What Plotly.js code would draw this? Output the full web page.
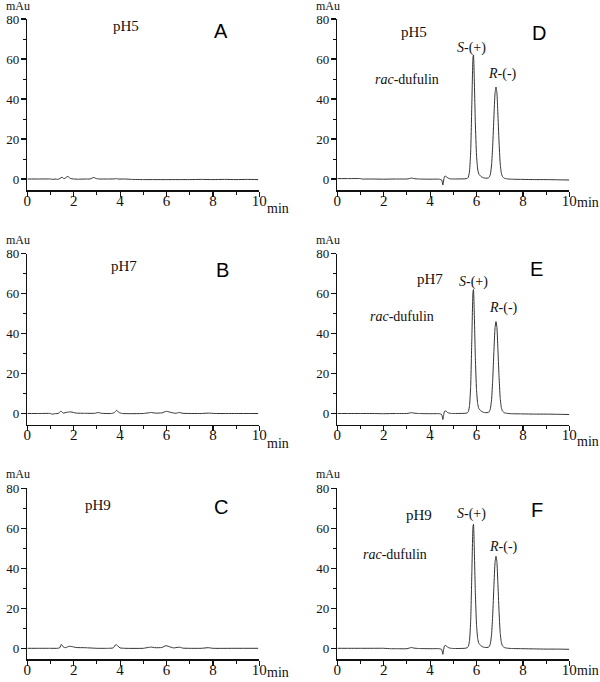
<!DOCTYPE html>
<html>
<head>
<meta charset="utf-8">
<script src="https://cdn.plot.ly/plotly-3.0.1.min.js"></script>
<style>html,body{margin:0;padding:0;background:#fff;}#chart{width:600px;height:682px;}</style>
</head>
<body>
<div id="chart"></div>
<script>
// ---- Data ----
const tickValsX = [0, 2, 4, 6, 8, 10];
const tickValsY = [0, 20, 40, 60, 80];
const panelLetters = ["A", "B", "C", "D", "E", "F"];
const phLabels = ["pH5", "pH7", "pH9", "pH5", "pH7", "pH9"];

// Panel A: blank, pH5
const tA = [0,0.5,1.0,1.1,1.2,1.3,1.4,1.5,1.58,1.65,1.75,1.85,2.0,2.2,2.5,2.7,2.8,2.87,2.95,3.1,3.5,3.8,3.85,3.9,4.2,4.5,5,5.5,6,6.5,7,7.5,8,8.5,9,9.5,9.95];
const yA = [0,0,0,-0.2,0,-0.2,0.2,0.9,0.1,0.6,1.3,0.3,0,-0.1,0,0,0.5,0.8,0.3,0,0,0.1,0.3,0,0,-0.2,-0.3,-0.3,-0.3,-0.3,-0.3,-0.2,-0.3,-0.2,-0.3,-0.2,-0.3];

// Panel B: blank, pH7
const tB = [0,0.5,1.0,1.05,1.2,1.35,1.45,1.55,1.7,1.85,2.0,2.1,2.5,2.9,3.05,3.2,3.6,3.75,3.85,3.95,4.1,5.0,5.2,5.35,5.5,5.8,6.0,6.2,6.4,6.55,6.7,7.5,7.8,8.1,9,9.95];
const yB = [0,0,0,-0.3,-0.1,0.1,1.2,0.2,0.6,0.8,0.5,0.2,0.1,0.1,0.5,0.1,0,0.4,1.6,0.5,0,0,0.3,0.5,0.2,0.3,1.1,0.5,0.1,0.5,0.1,0,0.2,0,0,0];

// Panel C: blank, pH9
const tC = [0,0.5,1.0,1.3,1.4,1.47,1.55,1.65,1.8,1.95,2.1,2.5,3.0,3.5,3.7,3.82,3.9,4.0,4.2,5.0,5.2,5.35,5.5,5.8,5.97,6.1,6.3,6.5,6.6,6.7,7.5,7.8,8.0,9,9.95];
const yC = [0,0,0,0,0.3,2.0,0.7,0.3,1.0,0.8,0.4,0.3,0,0,0.2,1.9,1.2,0.2,0,0,0.4,0.6,0.3,0.4,1.3,0.9,0.2,0.5,0.5,0.1,0,0.3,0,0,0];

// Panel D: rac-dufulin, pH5
const tD = [0,0.5,1.0,1.05,1.5,2.0,2.5,3.0,3.1,3.2,3.3,3.5,4.0,4.4,4.5,4.55,4.58,4.62,4.68,4.75,4.85,5.0,5.5,5.6,5.65,5.7,5.75,5.8,5.85,5.87,5.9,5.95,6.0,6.05,6.1,6.2,6.3,6.4,6.5,6.55,6.6,6.65,6.7,6.75,6.8,6.84,6.88,6.92,6.97,7.02,7.07,7.12,7.2,7.3,7.5,8,8.5,9,9.5,10];
const yD = [0.2,0.2,0.2,0,0,-0.1,0,0,0.2,0.5,0.2,0,-0.1,-0.1,-0.5,-3,-1,1.2,1.4,0.6,0.1,0,0.1,0.3,1.0,4,14,38,61,62,52,28,12,5,2.5,1.2,0.6,0.4,0.5,0.9,2.5,7,17,31,43,46,43,33,19,8,3,1.2,0.4,0.1,-0.1,-0.2,-0.3,-0.3,-0.4,-0.5];

// Panel E: rac-dufulin, pH7
const tE = [0,0.5,1.0,1.5,2.0,2.5,3.0,3.1,3.2,3.3,3.5,4.0,4.4,4.5,4.55,4.58,4.62,4.68,4.75,4.85,5.0,5.5,5.6,5.65,5.7,5.75,5.8,5.85,5.87,5.9,5.95,6.0,6.05,6.1,6.2,6.3,6.4,6.5,6.55,6.6,6.65,6.7,6.75,6.8,6.84,6.88,6.92,6.97,7.02,7.07,7.12,7.2,7.3,7.5,8,8.5,9,9.5,10];
const yE = [0,0,0,0,-0.1,0,0,0.2,0.4,0.2,0,-0.1,-0.1,-0.5,-3,-1,1.1,1.3,0.5,0.1,0,0.1,0.3,1.0,4,14,38,61,62,52,28,12,5,2.5,1.2,0.6,0.4,0.5,0.9,2.5,7,17,31,43,46,43,33,19,8,3,1.2,0.4,0.1,-0.1,-0.2,-0.3,-0.3,-0.4,-0.5];

// Panel F: rac-dufulin, pH9
const tF = [0,0.5,1.0,1.5,2.0,2.3,2.5,3.0,3.1,3.2,3.3,3.5,4.0,4.4,4.5,4.55,4.58,4.62,4.68,4.75,4.85,5.0,5.5,5.6,5.65,5.7,5.75,5.8,5.85,5.87,5.9,5.95,6.0,6.05,6.1,6.2,6.3,6.4,6.5,6.55,6.6,6.65,6.7,6.75,6.8,6.84,6.88,6.92,6.97,7.02,7.07,7.12,7.2,7.3,7.5,8,8.5,9,9.5,10];
const yF = [0,0,0,0,0,-0.2,-0.2,-0.2,0.1,0.4,0.1,-0.1,-0.2,-0.2,-0.6,-3,-1,1.2,1.4,0.6,0.1,-0.1,0,0.3,1.0,4,14,38,61,62,52,28,12,5,2.5,1.2,0.6,0.4,0.5,0.9,2.5,7,17,31,43,46,43,33,19,8,3,1.2,0.4,0.1,-0.1,-0.2,-0.3,-0.4,-0.4,-0.5];

// annotation positions (data coords) per panel
const phPosX = [4.25, 4.17, 3.05, 3.3, 4.0, 3.5];
const phPosY = [76.6, 73.6, 71.6, 73.6, 67.3, 66.6];
const letterPosX = [8.35, 8.4, 8.35, 8.7, 8.6, 8.6];
const letterPosY = [74, 71.6, 70.7, 73, 72.3, 69];
const sLabelX = [5.8, 5.86, 5.8];
const sLabelY = [65.6, 65.8, 67];
const rLabelX = [7.1, 7.16, 7.16];
const rLabelY = [52.6, 52.8, 50.5];
const racLabelX = [3.0, 2.78, 2.49];
const racLabelY = [49.6, 48.3, 47.1];
const minShift = [19, 19, 13, 13, 17, 11];
const mauShift = [13, 14, 14];

const xs = [tA, tB, tC, tD, tE, tF];
const ys = [yA, yB, yC, yD, yE, yF];

// ---- Layout ----
const W = 600, H = 682;
const colX = [[27.3, 259.3], [337.3, 569.3]];
const rowY = [[19, 190], [253.5, 424.5], [488.3, 659.3]];
const serif = "'Liberation Serif', 'Times New Roman', 'DejaVu Serif', serif";
const sans = "'Liberation Sans', Arial, sans-serif";

const traces = [];
const layout = {
  width: W, height: H,
  margin: {l: 0, r: 0, t: 0, b: 0},
  paper_bgcolor: "#fff", plot_bgcolor: "#fff",
  showlegend: false,
  font: {family: serif, size: 14, color: "#111"},
  annotations: []
};

for (let i = 0; i < 6; i++) {
  const col = i < 3 ? 0 : 1;
  const row = i % 3;
  const n = i + 1;
  const xa = n === 1 ? "x" : "x" + n;
  const ya = n === 1 ? "y" : "y" + n;
  traces.push({
    x: xs[i], y: ys[i], xaxis: xa, yaxis: ya,
    type: "scatter", mode: "lines",
    line: {color: "#333", width: 1, shape: "spline", smoothing: 0.5},
    hoverinfo: "skip"
  });
  const xKey = n === 1 ? "xaxis" : "xaxis" + n;
  const yKey = n === 1 ? "yaxis" : "yaxis" + n;
  layout[xKey] = {
    domain: [colX[col][0] / W, colX[col][1] / W],
    anchor: ya,
    range: [0, 10],
    tickvals: tickValsX,
    ticks: "outside", ticklen: 5, tickwidth: 1.2, tickcolor: "#111",
    minor: {dtick: 1, tick0: 0, ticks: "outside", ticklen: 3, tickwidth: 1, tickcolor: "#111", showgrid: false},
    showline: true, linecolor: "#111", linewidth: 1.5,
    showgrid: false, zeroline: false,
    ticklabelstandoff: -9,
    tickfont: {family: serif, size: 15, color: "#111"},
    fixedrange: true
  };
  layout[yKey] = {
    domain: [1 - rowY[row][1] / H, 1 - rowY[row][0] / H],
    anchor: xa,
    range: [-5.5, 80],
    tickvals: tickValsY,
    ticks: "outside", ticklen: 5, tickwidth: 1.2, tickcolor: "#111",
    minor: {dtick: 10, tick0: 0, ticks: "outside", ticklen: 3, tickwidth: 1, tickcolor: "#111", showgrid: false},
    showline: true, linecolor: "#111", linewidth: 1.5,
    showgrid: false, zeroline: false,
    ticklabelstandoff: -1,
    tickfont: {family: serif, size: 13, color: "#111"},
    fixedrange: true
  };
  layout.annotations.push({
    text: "mAu", xref: xa + " domain", yref: ya + " domain", x: 0, y: 1,
    xanchor: "right", yanchor: "middle", xshift: 5, yshift: mauShift[row], showarrow: false,
    font: {family: serif, size: 12, color: "#111"}
  });
  layout.annotations.push({
    text: "min", xref: xa + " domain", yref: ya + " domain", x: 1, y: 0,
    xanchor: "left", yanchor: "middle", xshift: 6, yshift: -minShift[i], showarrow: false,
    font: {family: serif, size: 14, color: "#111"}
  });
  layout.annotations.push({
    text: phLabels[i], xref: xa, yref: ya, x: phPosX[i], y: phPosY[i],
    xanchor: "center", yanchor: "middle", showarrow: false,
    font: {family: serif, size: 15, color: "#111"}
  });
  layout.annotations.push({
    text: panelLetters[i], xref: xa, yref: ya, x: letterPosX[i], y: letterPosY[i],
    xanchor: "center", yanchor: "middle", showarrow: false,
    font: {family: sans, size: 20, color: "#000"}
  });
  if (col === 1) {
    const k = i - 3;
    layout.annotations.push({
      text: "<i>S</i>-(+)", xref: xa, yref: ya, x: sLabelX[k], y: sLabelY[k],
      xanchor: "center", yanchor: "middle", showarrow: false,
      font: {family: serif, size: 14, color: "#111"}
    });
    layout.annotations.push({
      text: "<i>R</i>-(-)", xref: xa, yref: ya, x: rLabelX[k], y: rLabelY[k],
      xanchor: "center", yanchor: "middle", showarrow: false,
      font: {family: serif, size: 14, color: "#111"}
    });
    layout.annotations.push({
      text: "<i>rac</i>-dufulin", xref: xa, yref: ya, x: racLabelX[k], y: racLabelY[k],
      xanchor: "center", yanchor: "middle", showarrow: false,
      font: {family: serif, size: 14, color: "#111"}
    });
  }
}

Plotly.newPlot("chart", traces, layout, {staticPlot: true, displayModeBar: false});
</script>
</body>
</html>
